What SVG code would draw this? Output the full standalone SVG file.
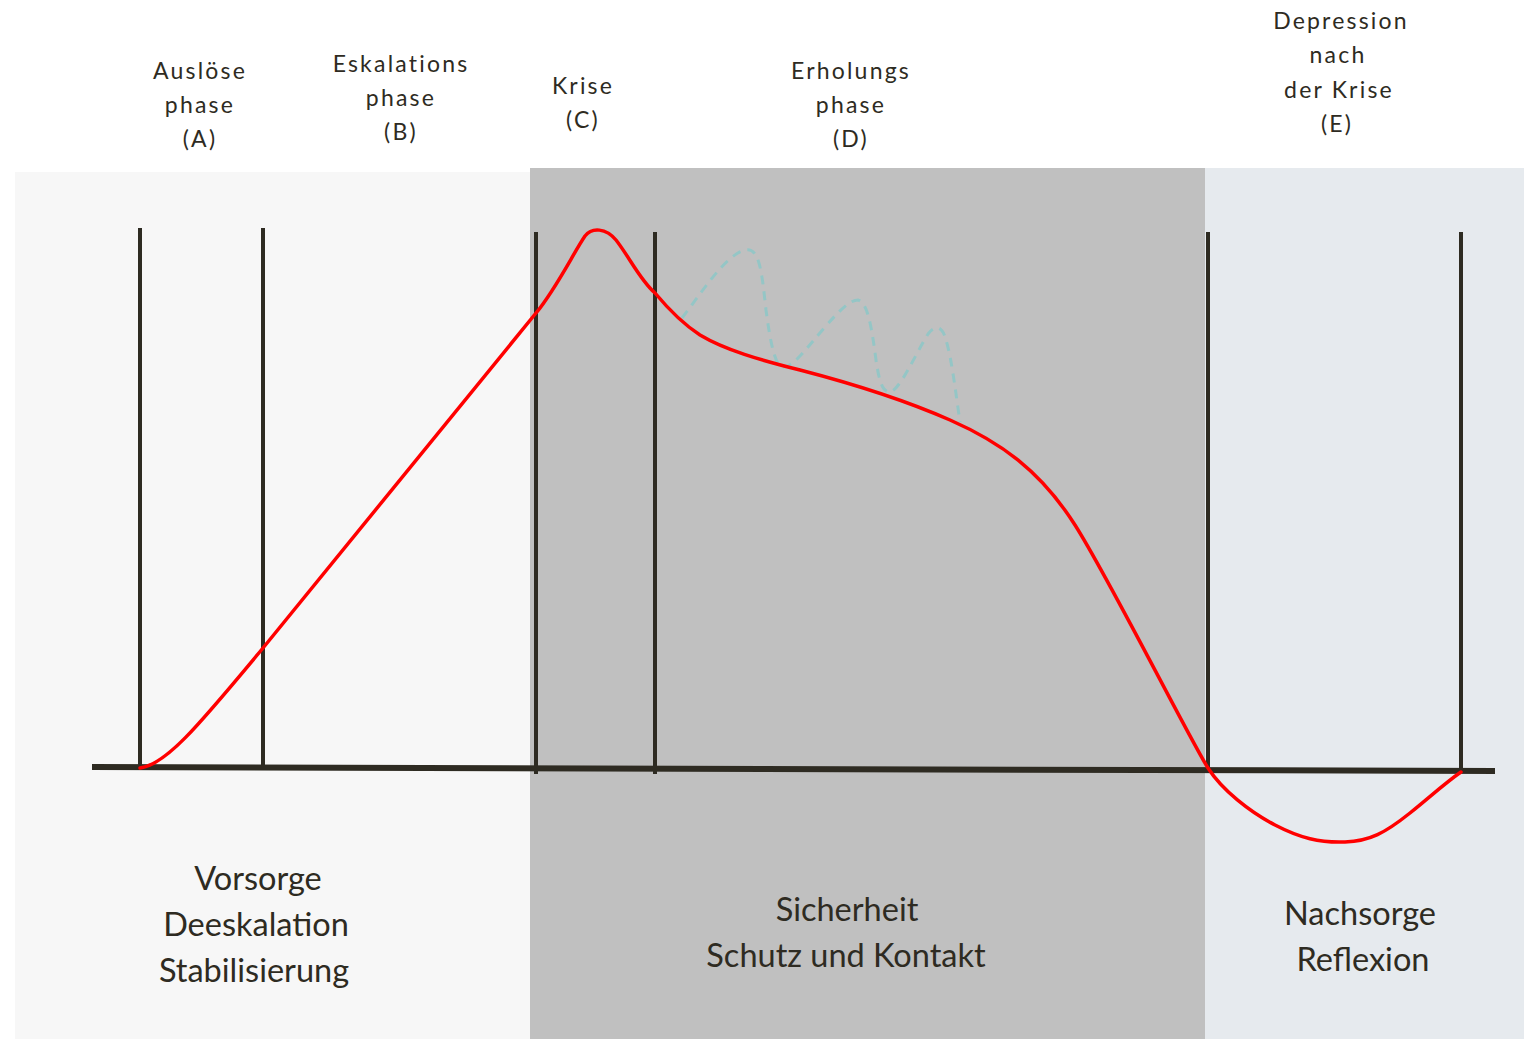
<svg xmlns="http://www.w3.org/2000/svg" width="1524" height="1039" viewBox="0 0 1524 1039">
  <defs>
    <style>
      .bg { stroke: none; }
      .tick { stroke: #2e2b22; stroke-width: 4; fill: none; }
      .axis { stroke: #2e2b22; stroke-width: 6; fill: none; }
      .curve { stroke: #ff0000; stroke-width: 3.5; fill: none; stroke-linecap: round; stroke-linejoin: round; }
      .relapse { stroke: #94c6c6; stroke-width: 3; fill: none; stroke-dasharray: 9 7; }
      .phase { font-family: Lato, "Liberation Sans", sans-serif; font-size: 23px; fill: #2e2b22; text-anchor: middle; letter-spacing: 2.2px; }
      .task { font-family: Lato, "Liberation Sans", sans-serif; font-size: 32.5px; fill: #2e2b22; text-anchor: middle; }
    </style>
  </defs>

  <rect width="1524" height="1039" fill="#ffffff"/>

  <!-- Background zones -->
  <g id="zone-vorsorge">
    <rect class="bg" x="15" y="172" width="515" height="867" fill="#f7f7f7"/>
    <text class="task" x="258" y="890">Vorsorge</text>
    <text class="task" x="256" y="936">Deeskalation</text>
    <text class="task" x="254" y="982">Stabilisierung</text>
  </g>
  <g id="zone-sicherheit">
    <rect class="bg" x="530" y="168" width="675" height="871" fill="#c0c0c0"/>
    <text class="task" x="847" y="921">Sicherheit</text>
    <text class="task" x="846" y="967">Schutz und Kontakt</text>
  </g>
  <g id="zone-nachsorge">
    <rect class="bg" x="1205" y="168" width="319" height="871" fill="#e6eaee"/>
    <text class="task" x="1360" y="925">Nachsorge</text>
    <text class="task" x="1363" y="971">Reflexion</text>
  </g>

  <!-- Phase headings -->
  <g id="phase-a">
    <text class="phase" x="200" y="79">Auslöse</text>
    <text class="phase" x="200" y="113">phase</text>
    <text class="phase" x="200" y="147">(A)</text>
  </g>
  <g id="phase-b">
    <text class="phase" x="401" y="72">Eskalations</text>
    <text class="phase" x="401" y="106">phase</text>
    <text class="phase" x="401" y="140">(B)</text>
  </g>
  <g id="phase-c">
    <text class="phase" x="583" y="94">Krise</text>
    <text class="phase" x="583" y="128">(C)</text>
  </g>
  <g id="phase-d">
    <text class="phase" x="851" y="79">Erholungs</text>
    <text class="phase" x="851" y="113">phase</text>
    <text class="phase" x="851" y="147">(D)</text>
  </g>
  <g id="phase-e">
    <text class="phase" x="1341" y="29">Depression</text>
    <text class="phase" x="1338" y="63">nach</text>
    <text class="phase" x="1339" y="98">der Krise</text>
    <text class="phase" x="1337" y="132">(E)</text>
  </g>

  <!-- Axis, phase boundaries and curves -->
  <g id="connectors">
    <line class="axis" x1="92" y1="767" x2="1495" y2="771"/>
    <line class="tick" x1="140" y1="228" x2="140" y2="768"/>
    <line class="tick" x1="263" y1="228" x2="263" y2="768"/>
    <line class="tick" x1="536" y1="232" x2="536" y2="774"/>
    <line class="tick" x1="655" y1="232" x2="655" y2="774"/>
    <line class="tick" x1="1208" y1="232" x2="1208" y2="771"/>
    <line class="tick" x1="1461" y1="232" x2="1461" y2="771"/>

    <path class="relapse" d="M682,318 C700,295 725,255 745,250 C760,246 762,275 766,310 C770,340 774,360 780,366 C790,372 805,350 825,327 C840,310 850,300 858,300 C868,302 872,330 876,360 C879,380 882,392 890,392 C900,390 915,355 928,334 C935,325 942,325 946,340 C952,360 956,395 960,422"/>

    <path class="curve" d="M140,768 C165,765 195,730 263,648 L536,313 C556,289 574,252 585,236 C592,227 606,228 616,240 C630,258 640,280 655,293 C665,305 680,322 700,335 C725,350 760,360 800,370 C850,383 900,398 950,420 C1000,442 1040,470 1075,525 C1110,580 1190,740 1208,768 C1222,790 1250,812 1275,825 C1300,838 1320,843 1345,842 C1370,841 1385,833 1410,813 C1430,797 1445,783 1461,772"/>
  </g>
</svg>
